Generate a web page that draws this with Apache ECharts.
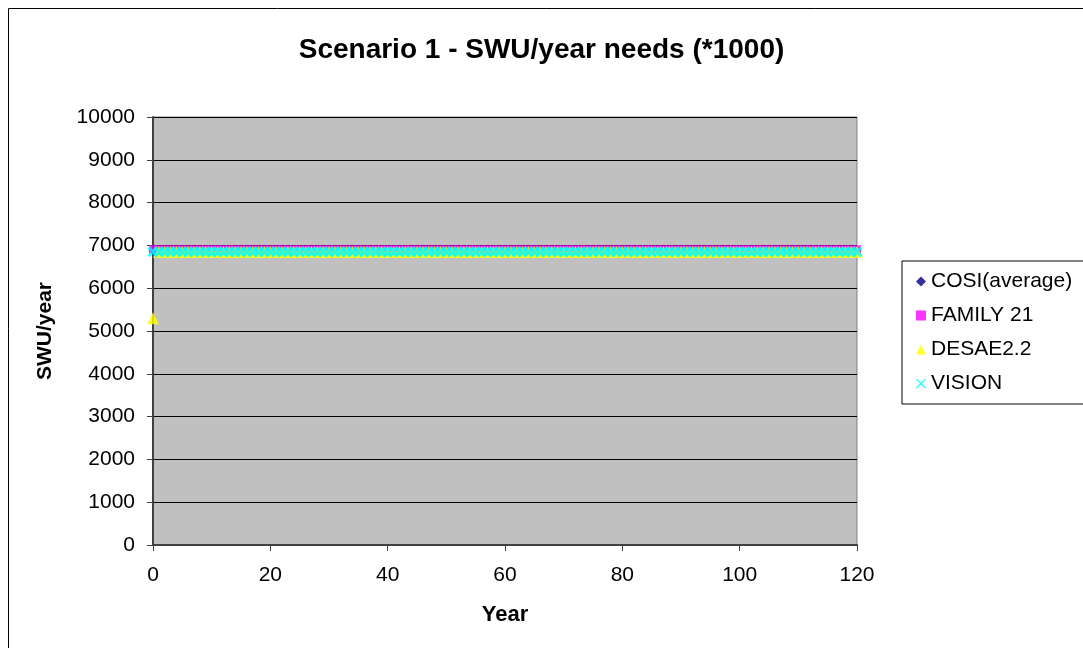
<!DOCTYPE html>
<html>
<head>
<meta charset="utf-8">
<script src="https://cdn.jsdelivr.net/npm/echarts@6/dist/echarts.min.js"></script>
<style>html,body{margin:0;padding:0;background:#fff;}#c{width:1083px;height:648px;}</style>
</head>
<body>
<div id="c"></div>
<script>
var titleText = 'Scenario 1 - SWU/year needs (*1000)';
var xName = 'Year';
var yName = 'SWU/year';
var seriesNames = ['COSI(average)', 'FAMILY 21', 'DESAE2.2', 'VISION'];
var xTicks = [0, 20, 40, 60, 80, 100, 120];
var yTicks = [0, 1000, 2000, 3000, 4000, 5000, 6000, 7000, 8000, 9000, 10000];

var years = [
0,1,2,3,4,5,6,7,8,9,
10,11,12,13,14,15,16,17,18,19,
20,21,22,23,24,25,26,27,28,29,
30,31,32,33,34,35,36,37,38,39,
40,41,42,43,44,45,46,47,48,49,
50,51,52,53,54,55,56,57,58,59,
60,61,62,63,64,65,66,67,68,69,
70,71,72,73,74,75,76,77,78,79,
80,81,82,83,84,85,86,87,88,89,
90,91,92,93,94,95,96,97,98,99,
100,101,102,103,104,105,106,107,108,109,
110,111,112,113,114,115,116,117,118,119,
120];

var cosi = [
6880,6880,6880,6880,6880,6880,6880,6880,6880,6880,
6880,6880,6880,6880,6880,6880,6880,6880,6880,6880,
6880,6880,6880,6880,6880,6880,6880,6880,6880,6880,
6880,6880,6880,6880,6880,6880,6880,6880,6880,6880,
6880,6880,6880,6880,6880,6880,6880,6880,6880,6880,
6880,6880,6880,6880,6880,6880,6880,6880,6880,6880,
6880,6880,6880,6880,6880,6880,6880,6880,6880,6880,
6880,6880,6880,6880,6880,6880,6880,6880,6880,6880,
6880,6880,6880,6880,6880,6880,6880,6880,6880,6880,
6880,6880,6880,6880,6880,6880,6880,6880,6880,6880,
6880,6880,6880,6880,6880,6880,6880,6880,6880,6880,
6880,6880,6880,6880,6880,6880,6880,6880,6880,6880,
6880];

var family = [
6910,6910,6910,6910,6910,6910,6910,6910,6910,6910,
6910,6910,6910,6910,6910,6910,6910,6910,6910,6910,
6910,6910,6910,6910,6910,6910,6910,6910,6910,6910,
6910,6910,6910,6910,6910,6910,6910,6910,6910,6910,
6910,6910,6910,6910,6910,6910,6910,6910,6910,6910,
6910,6910,6910,6910,6910,6910,6910,6910,6910,6910,
6910,6910,6910,6910,6910,6910,6910,6910,6910,6910,
6910,6910,6910,6910,6910,6910,6910,6910,6910,6910,
6910,6910,6910,6910,6910,6910,6910,6910,6910,6910,
6910,6910,6910,6910,6910,6910,6910,6910,6910,6910,
6910,6910,6910,6910,6910,6910,6910,6910,6910,6910,
6910,6910,6910,6910,6910,6910,6910,6910,6910,6910,
6910];

var desae = [
5300,6850,6850,6850,6850,6850,6850,6850,6850,6850,
6850,6850,6850,6850,6850,6850,6850,6850,6850,6850,
6850,6850,6850,6850,6850,6850,6850,6850,6850,6850,
6850,6850,6850,6850,6850,6850,6850,6850,6850,6850,
6850,6850,6850,6850,6850,6850,6850,6850,6850,6850,
6850,6850,6850,6850,6850,6850,6850,6850,6850,6850,
6850,6850,6850,6850,6850,6850,6850,6850,6850,6850,
6850,6850,6850,6850,6850,6850,6850,6850,6850,6850,
6850,6850,6850,6850,6850,6850,6850,6850,6850,6850,
6850,6850,6850,6850,6850,6850,6850,6850,6850,6850,
6850,6850,6850,6850,6850,6850,6850,6850,6850,6850,
6850,6850,6850,6850,6850,6850,6850,6850,6850,6850,
6850];

var vision = [
6850,6850,6850,6850,6850,6850,6850,6850,6850,6850,
6850,6850,6850,6850,6850,6850,6850,6850,6850,6850,
6850,6850,6850,6850,6850,6850,6850,6850,6850,6850,
6850,6850,6850,6850,6850,6850,6850,6850,6850,6850,
6850,6850,6850,6850,6850,6850,6850,6850,6850,6850,
6850,6850,6850,6850,6850,6850,6850,6850,6850,6850,
6850,6850,6850,6850,6850,6850,6850,6850,6850,6850,
6850,6850,6850,6850,6850,6850,6850,6850,6850,6850,
6850,6850,6850,6850,6850,6850,6850,6850,6850,6850,
6850,6850,6850,6850,6850,6850,6850,6850,6850,6850,
6850,6850,6850,6850,6850,6850,6850,6850,6850,6850,
6850,6850,6850,6850,6850,6850,6850,6850,6850,6850,
6850];

var font = '"Liberation Sans", Arial, sans-serif';
var xPath = 'path://M0,2L2,0L5,3L8,0L10,2L7,5L10,8L8,10L5,7L2,10L0,8L3,5Z';
var xPathThin = 'path://M0,1L1,0L5,4L9,0L10,1L6,5L10,9L9,10L5,6L1,10L0,9L4,5Z';

function pairs(vals) { return years.map(function (y, i) { return [y, vals[i]]; }); }

var chart = echarts.init(document.getElementById('c'), null, {renderer: 'canvas'});
chart.setOption({
  animation: false,
  backgroundColor: '#ffffff',
  textStyle: {fontFamily: font},
  graphic: [{
    type: 'rect', silent: true, z: -10,
    shape: {x: 8.5, y: 8.5, width: 1090, height: 660},
    style: {fill: 'none', stroke: '#000', lineWidth: 1}
  }],
  title: {
    text: titleText, left: 'center', top: 31,
    textStyle: {fontFamily: font, fontSize: 28, fontWeight: 'bold', color: '#000'}
  },
  legend: {
    orient: 'vertical', left: 902, top: 261,
    padding: [10, 40, 10, 14], itemGap: 13, itemWidth: 10, itemHeight: 10,
    borderColor: '#000', borderWidth: 1, backgroundColor: '#fff',
    textStyle: {fontFamily: font, fontSize: 21, color: '#000'},
    data: [
      {name: seriesNames[0], icon: 'diamond'},
      {name: seriesNames[1], icon: 'rect'},
      {name: seriesNames[2], icon: 'triangle'},
      {name: seriesNames[3], icon: xPathThin}
    ]
  },
  grid: {left: 153, right: 226, top: 117, bottom: 103, show: true, backgroundColor: '#c0c0c0', borderColor: '#808080', borderWidth: 1},
  xAxis: {
    type: 'value', min: xTicks[0], max: xTicks[xTicks.length - 1], interval: xTicks[1] - xTicks[0],
    name: xName, nameLocation: 'middle', nameGap: 59,
    nameTextStyle: {fontFamily: font, fontSize: 22, fontWeight: 'bold', color: '#000'},
    axisLine: {show: true, onZero: false, lineStyle: {color: '#404040', width: 2}},
    axisTick: {show: true, length: 6, lineStyle: {color: '#404040'}},
    axisLabel: {fontFamily: font, fontSize: 21, color: '#000', margin: 20},
    splitLine: {show: false}
  },
  yAxis: {
    type: 'value', min: yTicks[0], max: yTicks[yTicks.length - 1], interval: yTicks[1] - yTicks[0],
    name: yName, nameLocation: 'middle', nameGap: 97,
    nameTextStyle: {fontFamily: font, fontSize: 21, fontWeight: 'bold', color: '#000'},
    axisLine: {show: true, lineStyle: {color: '#404040', width: 2}},
    axisTick: {show: true, length: 6, lineStyle: {color: '#404040'}},
    axisLabel: {fontFamily: font, fontSize: 21, color: '#000', margin: 18, formatter: function (v) { return String(v); }},
    splitLine: {show: true, lineStyle: {color: '#000', width: 1}}
  },
  series: [
    {name: seriesNames[0], type: 'scatter', symbol: 'diamond', symbolSize: 9, itemStyle: {color: '#000080'}, data: pairs(cosi)},
    {name: seriesNames[1], type: 'scatter', symbol: 'rect', symbolSize: 8, itemStyle: {color: '#ff00ff'}, data: pairs(family)},
    {name: seriesNames[2], type: 'scatter', symbol: 'triangle', symbolSize: 12, itemStyle: {color: '#ffff00'}, data: pairs(desae)},
    {name: seriesNames[3], type: 'scatter', symbol: xPath, symbolSize: 11, itemStyle: {color: '#00ffff'}, data: pairs(vision)}
  ]
});
</script>
</body>
</html>
